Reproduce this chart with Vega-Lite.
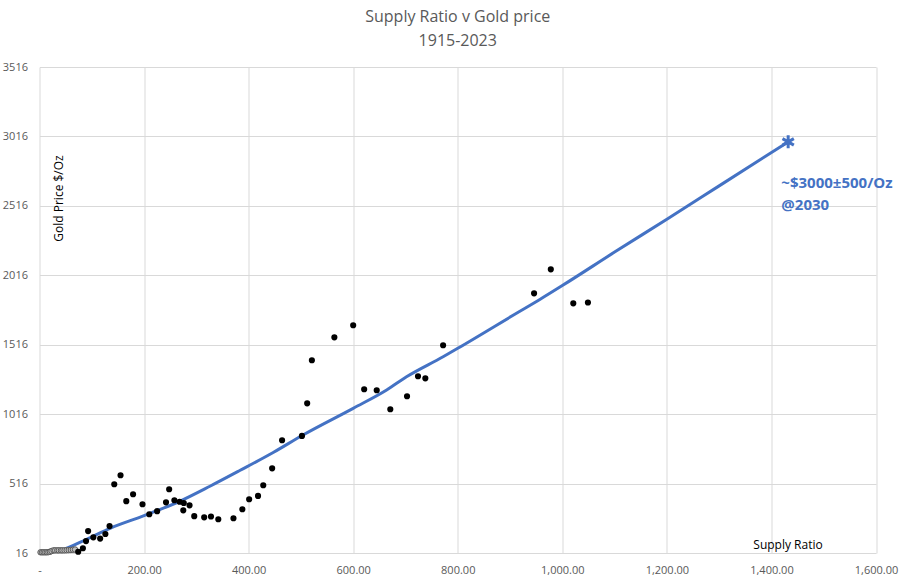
{
  "$schema": "https://vega.github.io/schema/vega-lite/v6.json",
  "width": 836.5,
  "height": 486,
  "autosize": {"type": "none"},
  "padding": {"left": 39.5, "top": 67, "right": 38, "bottom": 28},
  "background": "white",
  "title": {
    "text": ["Supply Ratio v Gold price", "1915-2023"],
    "font": "Open Sans",
    "fontSize": 16,
    "fontWeight": "normal",
    "color": "#595959",
    "anchor": "middle",
    "lineHeight": 24,
    "offset": 12
  },
  "datasets": {
    "trend": [
      {"x": 10, "y": 22}, {"x": 42, "y": 38}, {"x": 90, "y": 115}, {"x": 135, "y": 194},
      {"x": 200, "y": 285}, {"x": 269, "y": 390}, {"x": 326, "y": 497}, {"x": 383, "y": 610},
      {"x": 447, "y": 740}, {"x": 504, "y": 866}, {"x": 600, "y": 1058}, {"x": 664, "y": 1190},
      {"x": 702, "y": 1285}, {"x": 772, "y": 1429}, {"x": 800, "y": 1490}, {"x": 918, "y": 1755},
      {"x": 957, "y": 1842}, {"x": 1000, "y": 1942}, {"x": 1100, "y": 2183}, {"x": 1200, "y": 2420},
      {"x": 1300, "y": 2660}, {"x": 1432, "y": 2977}
    ],
    "early": [
      {"x": 2, "y": 21}, {"x": 5, "y": 21}, {"x": 8, "y": 21}, {"x": 11, "y": 21}, {"x": 14, "y": 21},
      {"x": 17, "y": 22}, {"x": 20, "y": 25}, {"x": 23, "y": 30}, {"x": 27, "y": 35}, {"x": 30, "y": 35},
      {"x": 34, "y": 35}, {"x": 37, "y": 35}, {"x": 41, "y": 35}, {"x": 44, "y": 35}, {"x": 48, "y": 35},
      {"x": 52, "y": 36}, {"x": 56, "y": 37}, {"x": 60, "y": 38}, {"x": 64, "y": 40}, {"x": 68, "y": 41}
    ],
    "points": [
      {"x": 74, "y": 25}, {"x": 83, "y": 50}, {"x": 89, "y": 102}, {"x": 93, "y": 174},
      {"x": 103, "y": 129}, {"x": 116, "y": 120}, {"x": 126, "y": 153}, {"x": 134, "y": 210},
      {"x": 143, "y": 511}, {"x": 155, "y": 576}, {"x": 166, "y": 389}, {"x": 179, "y": 439},
      {"x": 197, "y": 367}, {"x": 210, "y": 295}, {"x": 225, "y": 317}, {"x": 242, "y": 381},
      {"x": 248, "y": 475}, {"x": 258, "y": 396}, {"x": 268, "y": 385}, {"x": 276, "y": 376},
      {"x": 275, "y": 323}, {"x": 287, "y": 359}, {"x": 296, "y": 281}, {"x": 315, "y": 273},
      {"x": 328, "y": 279}, {"x": 342, "y": 259}, {"x": 371, "y": 266}, {"x": 388, "y": 331},
      {"x": 401, "y": 403}, {"x": 418, "y": 427}, {"x": 428, "y": 504}, {"x": 445, "y": 626},
      {"x": 464, "y": 828}, {"x": 502, "y": 859}, {"x": 512, "y": 1094}, {"x": 521, "y": 1404},
      {"x": 564, "y": 1569}, {"x": 600, "y": 1656}, {"x": 621, "y": 1195}, {"x": 645, "y": 1188},
      {"x": 671, "y": 1051}, {"x": 703, "y": 1145}, {"x": 724, "y": 1289}, {"x": 738, "y": 1274},
      {"x": 772, "y": 1512}, {"x": 946, "y": 1886}, {"x": 978, "y": 2059}, {"x": 1021, "y": 1814},
      {"x": 1049, "y": 1820}
    ],
    "target": [{"x": 1432, "y": 2977}],
    "notes": [
      {"x": 1419, "y": 2683, "label": "~$3000±500/Oz"},
      {"x": 1419, "y": 2522, "label": "@2030"}
    ]
  },
  "layer": [
    {
      "data": {"name": "trend"},
      "mark": {"type": "line", "color": "#4472C4", "strokeWidth": 3, "interpolate": "monotone"},
      "encoding": {
        "x": {
          "field": "x", "type": "quantitative",
          "scale": {"domain": [0, 1600], "nice": false, "zero": false},
          "axis": {
            "values": [0, 200, 400, 600, 800, 1000, 1200, 1400, 1600],
            "labelExpr": "datum.value == 0 ? '-' : format(datum.value, ',.2f')",
            "title": "Supply Ratio",
            "titleX": 748, "titleY": -9,
            "titleAlign": "center", "titleBaseline": "middle",
            "labelPadding": 11
          }
        },
        "y": {
          "field": "y", "type": "quantitative",
          "scale": {"domain": [16, 3516], "nice": false, "zero": false},
          "axis": {
            "values": [16, 516, 1016, 1516, 2016, 2516, 3016, 3516],
            "format": "d",
            "title": "Gold Price $/Oz",
            "titleX": 19, "titleY": 131, "titleAngle": -90,
            "titleAlign": "center", "titleBaseline": "middle",
            "labelPadding": 12
          }
        }
      }
    },
    {
      "data": {"name": "early"},
      "mark": {"type": "point", "filled": true, "fill": "#bfbfbf", "stroke": "#595959", "strokeWidth": 1, "size": 30, "opacity": 1},
      "encoding": {
        "x": {"field": "x", "type": "quantitative"},
        "y": {"field": "y", "type": "quantitative"}
      }
    },
    {
      "data": {"name": "points"},
      "mark": {"type": "circle", "color": "black", "size": 38, "opacity": 1},
      "encoding": {
        "x": {"field": "x", "type": "quantitative"},
        "y": {"field": "y", "type": "quantitative"}
      }
    },
    {
      "data": {"name": "target"},
      "mark": {
        "type": "point",
        "shape": "M0,-1L0,1M-0.87,-0.5L0.87,0.5M-0.87,0.5L0.87,-0.5",
        "filled": false, "stroke": "#4472C4", "strokeWidth": 3, "size": 170, "opacity": 1
      },
      "encoding": {
        "x": {"field": "x", "type": "quantitative"},
        "y": {"field": "y", "type": "quantitative"}
      }
    },
    {
      "data": {"name": "notes"},
      "mark": {"type": "text", "align": "left", "baseline": "middle", "font": "Open Sans", "fontSize": 15, "fontWeight": "bold", "color": "#4472C4"},
      "encoding": {
        "x": {"field": "x", "type": "quantitative"},
        "y": {"field": "y", "type": "quantitative"},
        "text": {"field": "label"}
      }
    }
  ],
  "config": {
    "view": {"stroke": null},
    "axis": {
      "domain": false,
      "ticks": false,
      "tickSize": 0,
      "grid": true,
      "gridColor": "#d9d9d9",
      "gridWidth": 1,
      "labelFont": "Open Sans",
      "labelFontSize": 11,
      "labelColor": "#595959",
      "labelFlush": false,
      "labelOverlap": false,
      "titleFont": "Open Sans",
      "titleFontSize": 12,
      "titleFontWeight": "normal",
      "titleColor": "black"
    }
  }
}
